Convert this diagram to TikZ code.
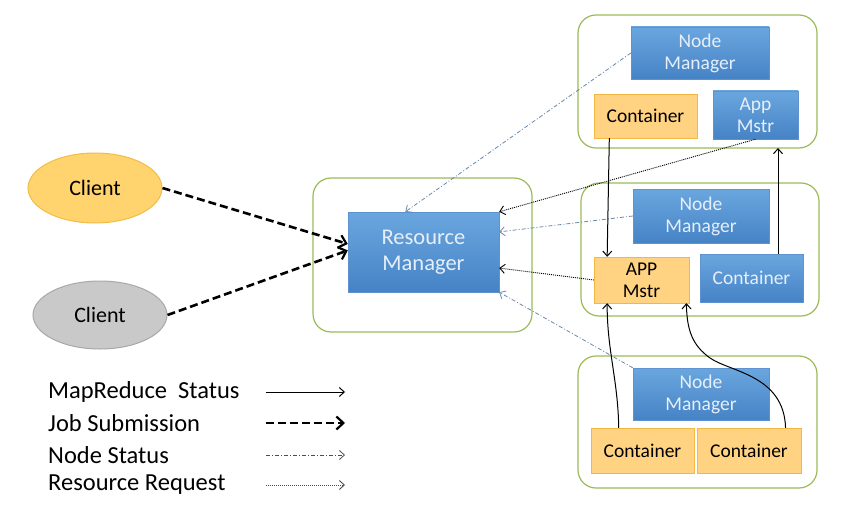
\documentclass[tikz,border=0pt]{standalone}
\usepackage{fontspec}
\setmainfont{Carlito}
\usetikzlibrary{shapes.geometric,arrows.meta,calc}
\definecolor{grn}{HTML}{9BBB59}
\definecolor{bluetop}{HTML}{6AA6DE}
\definecolor{bluebot}{HTML}{4683C6}
\definecolor{bluedraw}{HTML}{5E93CF}
\definecolor{bluetxt}{HTML}{E6EFF9}
\definecolor{orfill}{HTML}{FFD382}
\definecolor{ordraw}{HTML}{F2B843}
\definecolor{cl1fill}{HTML}{FFD36E}
\definecolor{cl1draw}{HTML}{F2BC45}
\definecolor{cl2fill}{HTML}{C9C9C9}
\definecolor{cl2draw}{HTML}{A8A8A8}
\definecolor{nscol}{HTML}{6A87A8}
\tikzset{
  outerbox/.style={draw=grn,line width=1.2pt,rounded corners=18pt},
  bluebox/.style={draw=bluedraw,top color=bluetop,bottom color=bluebot,text=bluetxt,align=center,inner sep=0pt,font=\fontsize{19.5}{22}\selectfont},
  orbox/.style={draw=ordraw,fill=orfill,text=black,align=center,inner sep=0pt,font=\fontsize{19.5}{22}\selectfont},
  client/.style={ellipse,line width=1pt,inner sep=0pt,font=\fontsize{22}{24}\selectfont},
  jobsub/.style={line width=2.6pt,dash pattern=on 8pt off 4pt,-{Straight Barb[length=7pt,width=13pt,line width=2.2pt]}},
  nodestat/.style={draw=nscol,line width=0.8pt,dash pattern=on 4pt off 2pt on 1pt off 2pt,-{Straight Barb[length=5pt,width=9pt]}},
  resreq/.style={line width=0.9pt,dash pattern=on 1pt off 1pt,-{Straight Barb[length=5pt,width=9pt]}},
  mrstat/.style={line width=1pt,-{Straight Barb[length=5pt,width=9pt]}},
  legtext/.style={anchor=west,inner sep=0pt,font=\fontsize{24.5}{26}\selectfont}
}
\begin{document}
\begin{tikzpicture}[x=1pt,y=-1pt]
\useasboundingbox (0,0) rectangle (856,508);
% outer boxes
\draw[outerbox] (313,178) rectangle (532,332);
\draw[outerbox] (578,15) rectangle (817,148);
\draw[outerbox] (581,183) rectangle (819,316);
\draw[outerbox] (578,356) rectangle (817,488);
\coordinate (box1s) at (778,148);
% clients
\node[client,draw=cl1draw,fill=cl1fill,minimum width=134pt,minimum height=70pt] (cl1) at (95,188) {Client};
\node[client,draw=cl2draw,fill=cl2fill,minimum width=134pt,minimum height=68pt] (cl2) at (100,315) {Client};
% resource manager
\node[bluebox,minimum width=151pt,minimum height=80pt,font=\fontsize{22.5}{26}\selectfont] (rm) at (423.5,252) {Resource\\Manager};
% node 1
\node[bluebox,minimum width=138pt,minimum height=52pt] (nm1) at (700,53) {Node\\Manager};
\node[orbox,minimum width=103pt,minimum height=44pt] (c1) at (645.5,116) {Container};
\node[bluebox,minimum width=85pt,minimum height=48pt] (am1) at (755.5,115) {App\\Mstr};
% node 2
\node[bluebox,minimum width=136pt,minimum height=54pt] (nm2) at (701,216) {Node\\Manager};
\node[orbox,minimum width=95pt,minimum height=46pt] (am2) at (641.5,280) {APP\\Mstr};
\node[bluebox,minimum width=103pt,minimum height=48pt] (c2) at (751.5,278) {Container};
% node 3
\node[bluebox,minimum width=136pt,minimum height=52pt] (nm3) at (701,394) {Node\\Manager};
\node[orbox,minimum width=103pt,minimum height=45pt] (c3a) at (642.5,450.5) {Container};
\node[orbox,minimum width=104pt,minimum height=45pt] (c3b) at (749,450.5) {Container};
% job submission
\draw[jobsub] (cl1.east) -- ($(rm.north west)!0.4!(rm.south west)$);
\draw[jobsub] (cl2.east) -- ($(rm.north west)!0.48!(rm.south west)$);
% node status
\draw[nodestat] (nm1.west) -- ($(rm.north west)!0.38!(rm.north east)$);
\draw[nodestat] (nm2.west) -- ($(rm.north east)!0.25!(rm.south east)$);
\draw[nodestat] (nm3.north west) -- (rm.south east);
% resource request
\draw[resreq] ($(am1.south west)!0.5!(am1.south east)$) -- (rm.north east);
\draw[resreq] (am2.west) -- ($(rm.north east)!0.7!(rm.south east)$);
% mapreduce status
\draw[mrstat] ($(c1.south west)!0.15!(c1.south east)$) -- ($(am2.north west)!0.14!(am2.north east)$);
\draw[mrstat] (c2.north -| box1s) -- (box1s);
\draw[mrstat] ($(c3a.north west)!0.27!(c3a.north east)$) .. controls (618,380) and (607,350) .. ($(am2.south west)!0.14!(am2.south east)$);
\draw[mrstat] ($(c3b.north west)!0.85!(c3b.north east)$) .. controls (784,375) and (730,372) .. (710,358) .. controls (692,345) and (687,330) .. ($(am2.south west)!0.97!(am2.south east)$);
% legend
\node[legtext] (l1) at (48,392) {MapReduce\ \ Status};
\node[legtext] (l2) at (48,423) {Job Submission};
\node[legtext] (l3) at (48,455) {Node Status};
\node[legtext] (l4) at (48,485) {Resource Request};
\coordinate (a1s) at (266,392); \coordinate (a1e) at (345,392);
\coordinate (a2s) at (266,423); \coordinate (a2e) at (345,423);
\coordinate (a3s) at (266,455); \coordinate (a3e) at (345,455);
\coordinate (a4s) at (266,485); \coordinate (a4e) at (345,485);
\draw[mrstat] (a1s) -- (a1e);
\draw[jobsub] (a2s) -- (a2e);
\draw[nodestat,draw=black!70] (a3s) -- (a3e);
\draw[resreq,draw=black!70] (a4s) -- (a4e);
\end{tikzpicture}
\end{document}
